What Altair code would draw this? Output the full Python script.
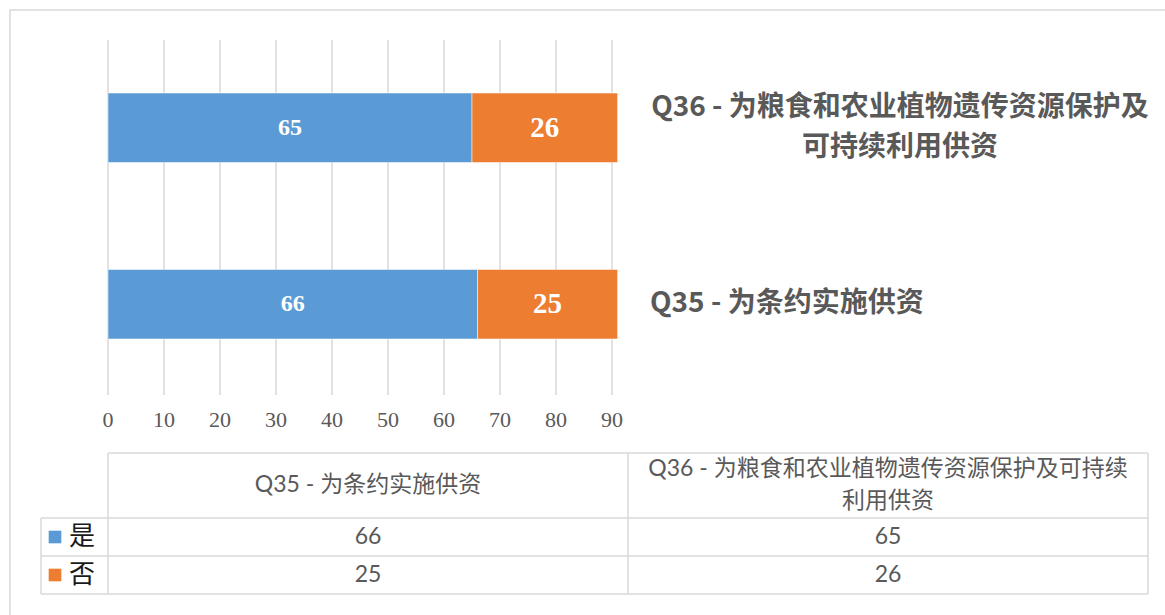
import altair as alt
import pandas as pd

# --- data -----------------------------------------------------------------
questions = ["Q36", "Q35"]
axis_labels = [
    "Q36 - 为粮食和农业植物遗传资源保护及\n可持续利用供资",
    "Q35 - 为条约实施供资",
]
table_order = ["Q35", "Q36"]
table_headers = [
    "Q35 - 为条约实施供资",
    "Q36 - 为粮食和农业植物遗传资源保护及可持续\n利用供资",
]
series = ["是", "否"]
yes_counts = [65, 66]   # Q36, Q35
no_counts = [26, 25]    # Q36, Q35
ticks = [0, 10, 20, 30, 40, 50, 60, 70, 80, 90]
colors = ["#5B9BD5", "#ED7D31"]

# --- long tables built from the lists above --------------------------------
rows = []
for q, y, n in zip(questions, yes_counts, no_counts):
    rows.append({"q": q, "series": series[0], "order": 0, "value": y})
    rows.append({"q": q, "series": series[1], "order": 1, "value": n})
bars_df = pd.DataFrame(rows)
label_df = pd.DataFrame({"q": questions, "label": axis_labels})
header_df = pd.DataFrame({"q": table_order, "header": table_headers})
tick_df = pd.DataFrame({"tick": ticks})
legend_df = pd.DataFrame({"series": series})

# --- layout ---------------------------------------------------------------
GRAY = "#595959"
LINE = "#D9D9D9"
CJK = "Noto Sans CJK SC"
TABLE_FONT = 'Lato, "Noto Sans CJK SC"'
SERIF = "Liberation Serif"

x_scale = alt.Scale(domain=[0, 90], range=[108, 612], nice=False, zero=True)
# bands for the bars, and matching band centres for the texts beside them
y_band = alt.Scale(domain=questions, range=[93, 339], paddingInner=0.606, paddingOuter=0)
y_mid = alt.Scale(type="point", domain=questions, range=[127.75, 304.25], padding=0)
color_scale = alt.Scale(domain=series, range=colors)
col_scale = alt.Scale(domain=table_order, range=[108, 1148], padding=0.5)
row_scale = alt.Scale(type="point", domain=series, range=[518, 594], padding=0.5)

# table grid segments (pixel geometry of the data table)
seg = pd.DataFrame([
    {"x": 108, "x2": 1148, "y": 453, "y2": 453},
    {"x": 41, "x2": 1148, "y": 518, "y2": 518},
    {"x": 41, "x2": 1148, "y": 556, "y2": 556},
    {"x": 41, "x2": 1148, "y": 594, "y2": 594},
    {"x": 41, "x2": 41, "y": 518, "y2": 594},
    {"x": 108, "x2": 108, "y": 453, "y2": 594},
    {"x": 628, "x2": 628, "y": 453, "y2": 594},
    {"x": 1148, "x2": 1148, "y": 453, "y2": 594},
])

# --- layers ----------------------------------------------------------------
frame = alt.Chart(pd.DataFrame({"k": [0]})).mark_rect(
    fill="white", fillOpacity=0, stroke=LINE, strokeWidth=1.5
).encode(x=alt.value(10), x2=alt.value(1185), y=alt.value(10), y2=alt.value(640))

grid = alt.Chart(tick_df).mark_rule(color=LINE, strokeWidth=1.5).encode(
    x=alt.X("tick:Q", scale=x_scale, axis=None),
    y=alt.value(40),
    y2=alt.value(395),
)

tick_text = alt.Chart(tick_df).mark_text(
    font=SERIF, fontSize=22, color=GRAY, baseline="middle"
).encode(
    x=alt.X("tick:Q", scale=x_scale, axis=None),
    y=alt.value(420),
    text="tick:Q",
)

stacked = alt.Chart(bars_df).transform_stack(
    stack="value", groupby=["q"], as_=["x0", "x1"], sort=[alt.SortField("order")]
).transform_calculate(mid="(datum.x0 + datum.x1) / 2")

bars = stacked.mark_bar(stroke="white", strokeWidth=0.5).encode(
    x=alt.X("x0:Q", scale=x_scale, axis=None),
    x2="x1:Q",
    y=alt.Y("q:N", scale=y_band, axis=None),
    color=alt.Color("series:N", scale=color_scale, legend=None),
)

bar_labels = stacked.mark_text(
    font=SERIF, fontWeight="bold", color="white", baseline="middle"
).encode(
    x=alt.X("mid:Q", scale=x_scale, axis=None),
    y=alt.Y("q:N", scale=y_mid, axis=None),
    text="value:Q",
    size=alt.Size("series:O", scale=alt.Scale(domain=series, range=[24, 29]), legend=None),
)

label_long = alt.Chart(label_df).transform_filter(alt.datum.q == "Q36").mark_text(
    align="center", baseline="middle", font=CJK, fontWeight="bold", fontSize=28,
    lineBreak="\n", lineHeight=40, dy=-20, color=GRAY,
).encode(
    x=alt.value(900),
    y=alt.Y("q:N", scale=y_mid, axis=None),
    text="label:N",
)

label_short = alt.Chart(label_df).transform_filter(alt.datum.q == "Q35").mark_text(
    align="left", baseline="middle", font=CJK, fontWeight="bold", fontSize=28, color=GRAY,
).encode(
    x=alt.value(650),
    y=alt.Y("q:N", scale=y_mid, axis=None),
    text="label:N",
)

table_lines = alt.Chart(seg).mark_rule(color=LINE, strokeWidth=1.5).encode(
    x=alt.X("x:Q", scale=None),
    x2="x2:Q",
    y=alt.Y("y:Q", scale=None),
    y2="y2:Q",
)

header_one = alt.Chart(header_df).transform_filter(alt.datum.q == "Q35").mark_text(
    font=TABLE_FONT, fontSize=23, color=GRAY, baseline="middle",
).encode(
    x=alt.X("q:N", scale=col_scale, axis=None),
    y=alt.value(485),
    text="header:N",
)

header_two = alt.Chart(header_df).transform_filter(alt.datum.q == "Q36").mark_text(
    font=TABLE_FONT, fontSize=23, color=GRAY, baseline="middle",
    lineBreak="\n", lineHeight=32,
).encode(
    x=alt.X("q:N", scale=col_scale, axis=None),
    y=alt.value(469),
    text="header:N",
)

cells = alt.Chart(bars_df).mark_text(
    font=TABLE_FONT, fontSize=23, color=GRAY, baseline="middle"
).encode(
    x=alt.X("q:N", scale=col_scale, axis=None),
    y=alt.Y("series:N", scale=row_scale, axis=None),
    text="value:Q",
)

legend_keys = alt.Chart(legend_df).mark_square(size=160, opacity=1).encode(
    x=alt.value(55),
    y=alt.Y("series:N", scale=row_scale, axis=None),
    color=alt.Color("series:N", scale=color_scale, legend=None),
)

legend_text = alt.Chart(legend_df).mark_text(
    font=CJK, fontSize=26, color="#1A1A1A", align="left", baseline="middle"
).encode(
    x=alt.value(69),
    y=alt.Y("series:N", scale=row_scale, axis=None),
    text="series:N",
)

chart = alt.layer(
    frame, grid, bars, bar_labels, tick_text, label_long, label_short,
    table_lines, header_one, header_two, cells, legend_keys, legend_text,
).resolve_scale(
    x="independent", y="independent", color="independent", size="independent"
).properties(
    width=1165, height=615, padding=0,
    autosize=alt.AutoSizeParams(type="none"),
).configure_view(stroke=None)

chart.save("out.html", embed_options={"renderer": "svg", "actions": False})
